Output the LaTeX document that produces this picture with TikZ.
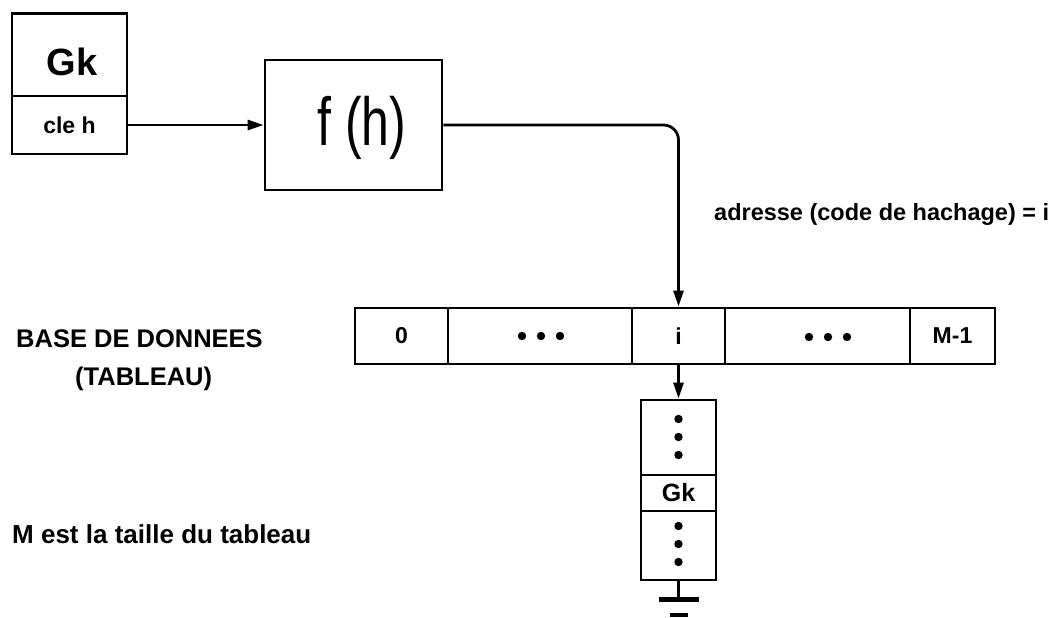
\documentclass[tikz,border=0pt]{standalone}
\usepackage{fontspec}
\setmainfont{Liberation Sans}
\usetikzlibrary{arrows.meta}
\tikzset{
  cell/.style={draw, line width=2.8pt, rectangle, inner sep=0pt, anchor=center},
  blbl/.style={font=\bfseries\fontsize{23}{26}\selectfont},
  conn/.style={line width=2.8pt, -{Triangle[length=16pt,width=10pt]}},
  dotfill/.style={fill=black},
}
\begin{document}
\begin{tikzpicture}[x=1pt, y=-1pt]
\useasboundingbox (0,0) rectangle (1058,618);

% Gk record
\node[cell, minimum width=115pt, minimum height=82.5pt] (gk) at (69.5,54.75) {};
\node[font=\bfseries\fontsize{38}{40}\selectfont] (gkt) at (72,62) {Gk};
\node[cell, minimum width=115pt, minimum height=58pt, blbl] (cle) at (69.5,125) {cle h};

% hash function
\node[cell, minimum width=177pt, minimum height=130pt] (fh) at (353.5,125) {};
\node (fht) at (362,128) {\scalebox{1}[1.36]{\fontsize{50}{52}\selectfont f (h)}};

% table
\node[cell, minimum width=93pt,  minimum height=56pt, blbl] (c0) at (401.5,336) {0};
\node[cell, minimum width=184pt, minimum height=56pt] (c1) at (540,336) {};
\node[cell, minimum width=93pt,  minimum height=56pt, blbl] (ci) at (678.5,336) {i};
\node[cell, minimum width=185pt, minimum height=56pt] (c3) at (817.5,336) {};
\node[cell, minimum width=85pt,  minimum height=56pt, blbl] (cM) at (952.5,336) {M-1};

\foreach \x in {522,541,560} \fill[dotfill] (\x,336) circle (4.2pt);
\foreach \x in {809,828,847} \fill[dotfill] (\x,337) circle (4.2pt);

% chain
\node[cell, minimum width=75pt, minimum height=75pt] (top) at (678.5,437.5) {};
\node[cell, minimum width=75pt, minimum height=36pt, font=\bfseries\fontsize{25}{28}\selectfont] (gk2) at (678.5,493) {Gk};
\node[cell, minimum width=75pt, minimum height=69pt] (bot) at (678.5,545.5) {};
\foreach \y in {419,437,455} \fill[dotfill] (678.5,\y) circle (4.2pt);
\foreach \y in {526,544,562} \fill[dotfill] (678.5,\y) circle (4.2pt);

% ground
\coordinate (g) at (678.5,599);
\coordinate (g2) at (678.5,615);
\draw[line width=2.8pt] (bot.south) -- (g);
\draw[line width=5pt] ([xshift=-20pt]g) -- ([xshift=20pt]g);
\draw[line width=4pt] ([xshift=-9pt]g2) -- ([xshift=9pt]g2);

% connectors
\draw[conn] (cle.east) -- (fh.west);
\draw[conn, rounded corners=15pt] (fh.east) -- (fh.east -| ci.north) -- (ci.north);
\draw[conn] (ci.south) -- (top.north);

% labels
\node[anchor=base west, inner sep=0pt, font=\bfseries\fontsize{23.5}{26}\selectfont] (adr) at (714,220) {adresse (code de hachage) = i};
\node[anchor=base west, inner sep=0pt, font=\bfseries\fontsize{25.5}{28}\selectfont] (base) at (16,347) {BASE DE DONNEES};
\node[anchor=base west, inner sep=0pt, font=\bfseries\fontsize{25.5}{28}\selectfont] (tab) at (75,385) {(TABLEAU)};
\node[anchor=base west, inner sep=0pt, font=\bfseries\fontsize{26}{28}\selectfont] (mest) at (12,543) {M est la taille du tableau};
\end{tikzpicture}
\end{document}
